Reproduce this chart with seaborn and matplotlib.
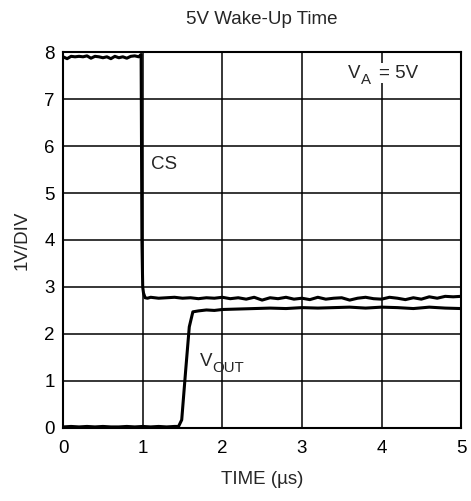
import matplotlib
matplotlib.use("Agg")
import matplotlib.pyplot as plt
import seaborn as sns

sns.set_style("white")
plt.rcParams['font.family'] = ['Liberation Sans', 'DejaVu Sans']

# CS trace (time in us, volts)
cs_time = [0.00, 0.05, 0.10, 0.15, 0.20, 0.25, 0.30, 0.35, 0.40, 0.45,
           0.50, 0.55, 0.60, 0.65, 0.70, 0.75, 0.80, 0.85, 0.90, 0.95,
           0.98, 0.985, 0.99, 1.00, 1.01, 1.03, 1.06, 1.10, 1.20, 1.30,
           1.40, 1.50, 1.60, 1.70, 1.80, 1.90, 2.00, 2.10, 2.20, 2.30,
           2.40, 2.50, 2.60, 2.70, 2.80, 2.90, 3.00, 3.10, 3.20, 3.30,
           3.40, 3.50, 3.60, 3.70, 3.80, 3.90, 4.00, 4.10, 4.20, 4.30,
           4.40, 4.50, 4.60, 4.70, 4.80, 4.90, 5.00]
cs_volts = [7.90, 7.86, 7.91, 7.90, 7.91, 7.90, 7.92, 7.87, 7.91, 7.90,
            7.88, 7.90, 7.86, 7.91, 7.88, 7.90, 7.87, 7.91, 7.92, 7.90,
            7.95, 6.00, 4.00, 3.00, 2.87, 2.77, 2.76, 2.78, 2.76, 2.77,
            2.78, 2.76, 2.77, 2.75, 2.77, 2.76, 2.78, 2.75, 2.77, 2.74,
            2.78, 2.72, 2.77, 2.75, 2.78, 2.74, 2.76, 2.73, 2.78, 2.74,
            2.76, 2.77, 2.72, 2.76, 2.78, 2.75, 2.74, 2.78, 2.76, 2.73,
            2.77, 2.74, 2.79, 2.76, 2.80, 2.79, 2.80]

# VOUT trace
vout_time = [0.00, 0.10, 0.20, 0.30, 0.40, 0.50, 0.60, 0.70, 0.80, 0.90,
             1.00, 1.10, 1.20, 1.30, 1.40, 1.45, 1.49, 1.54, 1.585, 1.63,
             1.70, 1.80, 1.90, 2.00, 2.20, 2.40, 2.60, 2.80, 3.00, 3.20,
             3.40, 3.60, 3.80, 4.00, 4.20, 4.40, 4.60, 4.80, 5.00]
vout_volts = [0.02, 0.03, 0.02, 0.03, 0.02, 0.03, 0.02, 0.02, 0.03, 0.02,
              0.03, 0.02, 0.03, 0.02, 0.03, 0.03, 0.17, 1.23, 2.15, 2.47,
              2.49, 2.51, 2.50, 2.52, 2.53, 2.54, 2.55, 2.54, 2.56, 2.55,
              2.56, 2.57, 2.55, 2.57, 2.56, 2.54, 2.57, 2.55, 2.54]

x_ticks = [0, 1, 2, 3, 4, 5]
y_ticks = [0, 1, 2, 3, 4, 5, 6, 7, 8]

fs = 13.5

fig, ax = plt.subplots(figsize=(4.71, 5.01), dpi=100)
fig.subplots_adjust(left=0.134, right=0.979, top=0.896, bottom=0.146)

sns.lineplot(x=cs_time, y=cs_volts, ax=ax, color='black', linewidth=2.2,
             estimator=None, sort=False)
sns.lineplot(x=vout_time, y=vout_volts, ax=ax, color='black', linewidth=2.2,
             estimator=None, sort=False)

ax.set_xlim(0, 5)
ax.set_ylim(0, 8)
ax.set_xticks(x_ticks)
ax.set_yticks(y_ticks)
ax.grid(True, color='black', linewidth=1.1)
ax.set_axisbelow(True)
for s in ax.spines.values():
    s.set_color('black')
    s.set_linewidth(1.5)
ax.tick_params(length=0, labelsize=fs, colors='black')
ax.tick_params(axis='x', pad=9)
ax.tick_params(axis='y', pad=6)

ax.set_title('5V Wake-Up Time', fontsize=fs, pad=20)
ax.set_xlabel('TIME (µs)', fontsize=fs, labelpad=10)
ax.set_ylabel('1V/DIV', fontsize=fs, labelpad=10)

ax.text(1.1, 5.6, 'CS', fontsize=fs, ha='left', va='center')

# V_OUT label: main letter plus a lowered subscript
ax.text(1.72, 1.42, 'V', fontsize=fs, ha='left', va='center')
ax.annotate('OUT', xy=(1.72, 1.42), xytext=(9, -5), textcoords='offset points',
            fontsize=fs * 0.8, ha='left', va='center')

# V_A = 5V label with a white backing that breaks the grid line
ax.text(3.58, 7.55, 'V', fontsize=fs, ha='left', va='center',
        bbox=dict(facecolor='white', edgecolor='none', pad=1))
ax.annotate('A', xy=(3.58, 7.55), xytext=(9, -5), textcoords='offset points',
            fontsize=fs * 0.8, ha='left', va='center')
ax.annotate('= 5V', xy=(4.0, 7.55), xytext=(-2, 0), textcoords='offset points',
            fontsize=fs, ha='left', va='center',
            bbox=dict(facecolor='white', edgecolor='none', pad=1))

fig.savefig('out.png', dpi=100)
